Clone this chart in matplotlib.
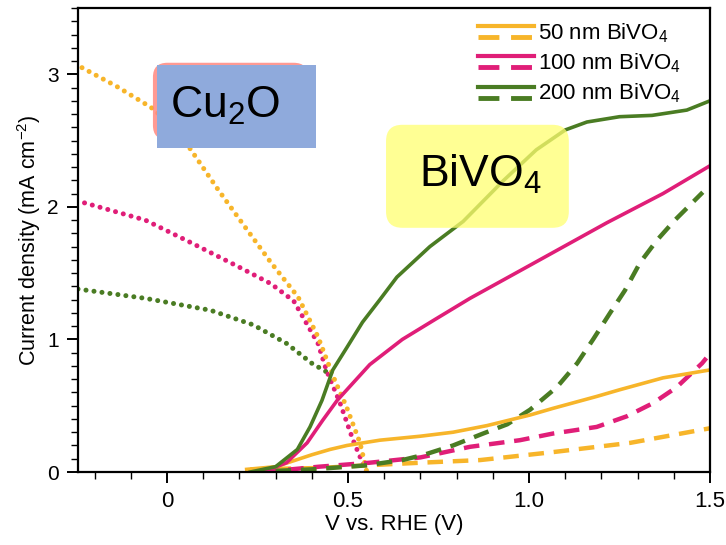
import matplotlib
matplotlib.use('agg')
import matplotlib.pyplot as plt
from matplotlib.lines import Line2D
from matplotlib.legend_handler import HandlerBase
from matplotlib.patches import FancyBboxPatch, Rectangle
from matplotlib.ticker import MultipleLocator

plt.rcParams['font.family'] = ['Liberation Sans', 'DejaVu Sans']
plt.rcParams['mathtext.fontset'] = 'custom'
plt.rcParams['mathtext.rm'] = 'Liberation Sans'
plt.rcParams['mathtext.it'] = 'Liberation Sans:italic'
plt.rcParams['mathtext.default'] = 'regular'

orange = '#F7B52A'
pink = '#E01E78'
green = '#4A7C23'

# Cu2O curves (dotted)
v_cu_50 = [-0.235, -0.14, -0.044, 0.02, 0.066, 0.141, 0.215, 0.287, 0.362, 0.417, 0.459, 0.496, 0.533, 0.552]
j_cu_50 = [3.05, 2.91, 2.75, 2.60, 2.43, 2.13, 1.85, 1.58, 1.32, 1.02, 0.72, 0.49, 0.22, 0.0]
v_cu_100 = [-0.228, -0.06, 0.066, 0.196, 0.287, 0.35, 0.417, 0.44, 0.478, 0.514, 0.54, 0.55]
j_cu_100 = [2.03, 1.90, 1.73, 1.55, 1.42, 1.29, 0.97, 0.77, 0.52, 0.24, 0.07, 0.0]
v_cu_200 = [-0.246, -0.06, 0.12, 0.238, 0.33, 0.40, 0.45]
j_cu_200 = [1.38, 1.31, 1.22, 1.11, 0.97, 0.82, 0.74]

# BiVO4 curves (solid)
v_bi_50 = [0.22, 0.30, 0.40, 0.45, 0.497, 0.588, 0.70, 0.79, 0.884, 1.003, 1.066, 1.187, 1.25, 1.37, 1.5]
j_bi_50 = [0.02, 0.04, 0.13, 0.17, 0.20, 0.24, 0.27, 0.30, 0.35, 0.43, 0.48, 0.57, 0.62, 0.71, 0.77]
v_bi_100 = [0.265, 0.33, 0.387, 0.43, 0.47, 0.56, 0.65, 0.74, 0.837, 1.003, 1.215, 1.37, 1.5]
j_bi_100 = [0.0, 0.07, 0.22, 0.39, 0.54, 0.81, 1.0, 1.15, 1.31, 1.56, 1.88, 2.10, 2.31]
v_bi_200 = [0.23, 0.30, 0.36, 0.395, 0.428, 0.458, 0.497, 0.54, 0.588, 0.635, 0.726, 0.818, 0.93, 1.02, 1.10, 1.16, 1.25, 1.34, 1.436, 1.5]
j_bi_200 = [0.0, 0.04, 0.17, 0.34, 0.54, 0.77, 0.94, 1.13, 1.30, 1.47, 1.70, 1.89, 2.20, 2.43, 2.58, 2.64, 2.68, 2.69, 2.73, 2.80]

# BiVO4 curves (dashed)
v_da_50 = [0.23, 0.42, 0.55, 0.70, 0.865, 1.066, 1.28, 1.5]
j_da_50 = [0.02, 0.03, 0.05, 0.07, 0.09, 0.15, 0.22, 0.33]
v_da_100 = [0.265, 0.42, 0.56, 0.70, 0.837, 0.975, 1.066, 1.187, 1.27, 1.343, 1.408, 1.478, 1.49]
j_da_100 = [0.0, 0.04, 0.07, 0.11, 0.19, 0.24, 0.29, 0.34, 0.42, 0.52, 0.64, 0.82, 0.86]
v_da_200 = [0.23, 0.40, 0.55, 0.65, 0.71, 0.79, 0.873, 0.94, 1.003, 1.077, 1.133, 1.177, 1.224, 1.265, 1.307, 1.354, 1.403, 1.48]
j_da_200 = [0.0, 0.02, 0.05, 0.09, 0.13, 0.20, 0.29, 0.36, 0.47, 0.64, 0.82, 1.0, 1.20, 1.37, 1.58, 1.75, 1.90, 2.11]

labels = ['50 nm BiVO$_4$', '100 nm BiVO$_4$', '200 nm BiVO$_4$']


# legend handle: solid line on top, dashed line below
class SolidDashHandler(HandlerBase):
    def create_artists(self, legend, orig_handle, xdescent, ydescent,
                       width, height, fontsize, trans):
        c = orig_handle.get_color()
        mid = height / 2 - ydescent
        top = Line2D([-xdescent, width - xdescent], [mid + 4] * 2,
                     color=c, lw=3, transform=trans)
        bot = Line2D([-xdescent, width - xdescent], [mid - 4] * 2,
                     color=c, lw=3.5, dashes=(4.3, 2.4), transform=trans)
        return [top, bot]


fig = plt.figure(figsize=(7.26, 5.45), dpi=100)
ax = fig.add_axes([78 / 726, 73 / 545, 632 / 726, 464 / 545])

dot = dict(lw=3.6, linestyle=(0, (0.01, 1.6)), dash_capstyle='round')
ax.plot(v_cu_200, j_cu_200, color=green, **dot)
ax.plot(v_cu_100, j_cu_100, color=pink, **dot)
ax.plot(v_cu_50, j_cu_50, color=orange, **dot)

dash = dict(lw=3.2, dashes=(3.5, 2.2))
ax.plot(v_da_50, j_da_50, color=orange, **dash)
ax.plot(v_da_100, j_da_100, color=pink, **dash)
ax.plot(v_da_200, j_da_200, color=green, **dash)

h1, = ax.plot(v_bi_50, j_bi_50, color=orange, lw=2.6)
h2, = ax.plot(v_bi_100, j_bi_100, color=pink, lw=2.6)
h3, = ax.plot(v_bi_200, j_bi_200, color=green, lw=2.6)

ax.set_xlim(-0.246, 1.5)
ax.set_ylim(0, 3.5)
ax.xaxis.set_minor_locator(MultipleLocator(0.1))
ax.yaxis.set_major_locator(MultipleLocator(1))
ax.yaxis.set_minor_locator(MultipleLocator(0.1))
ax.set_xticks([0, 0.5, 1.0, 1.5])
ax.set_xticklabels(['0', '0.5', '1.0', '1.5'])
ax.tick_params(which='major', length=8, width=1.4, labelsize=15, pad=6)
ax.tick_params(axis='x', which='major', labelsize=16)
ax.tick_params(which='minor', length=5, width=1.0)
for s in ax.spines.values():
    s.set_linewidth(1.6)
ax.set_xlabel('V vs. RHE (V)', fontsize=16, labelpad=1)
ax.set_ylabel('Current density (mA cm$^{-2}$)', fontsize=15.5, labelpad=3)

# Cu2O label: salmon rounded box with blue box on top
ax.add_patch(FancyBboxPatch((-0.039, 2.506), 0.429, 0.581,
                            boxstyle='round,pad=0,rounding_size=0.04',
                            mutation_aspect=362 / 132.5,
                            fc='#FF8880', ec='none', alpha=0.85, zorder=5))
ax.add_patch(Rectangle((-0.028, 2.445), 0.44, 0.627, fc='#8FAADC',
                       ec='none', zorder=6))
ax.text(0.16, 2.67, 'Cu$_2$O', fontsize=32, ha='center', va='baseline', zorder=7)

# BiVO4 label: translucent yellow rounded box
ax.add_patch(FancyBboxPatch((0.605, 1.842), 0.505, 0.777,
                            boxstyle='round,pad=0,rounding_size=0.045',
                            mutation_aspect=362 / 132.5,
                            fc='#FFFF70', ec='none', alpha=0.75, zorder=5))
ax.text(0.865, 2.15, 'BiVO$_4$', fontsize=32, ha='center', va='baseline', zorder=7)

ax.legend([h1, h2, h3], labels, handler_map={Line2D: SolidDashHandler()},
          loc='upper right', frameon=False, fontsize=16, handlelength=2.5,
          handletextpad=0.2, labelspacing=0.3, borderaxespad=0.2,
          bbox_to_anchor=(0.975, 1.0))

plt.savefig('out.png', dpi=100)
